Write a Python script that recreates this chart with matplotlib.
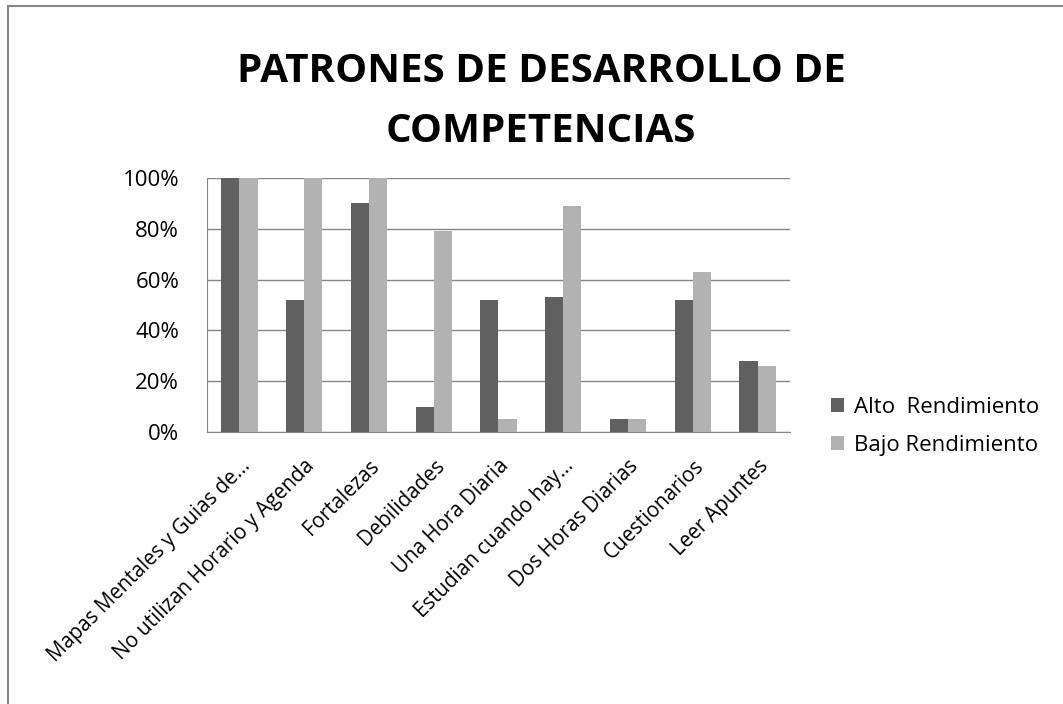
import numpy as np
import matplotlib
matplotlib.use("Agg")
from matplotlib import pyplot as plt
from matplotlib.lines import Line2D

categories = [
    "Mapas Mentales y Guias de...",
    "No utilizan Horario y Agenda",
    "Fortalezas",
    "Debilidades",
    "Una Hora Diaria",
    "Estudian cuando hay...",
    "Dos Horas Diarias",
    "Cuestionarios",
    "Leer Apuntes",
]
alto = [100, 52, 90, 10, 52, 53, 5, 52, 28]
bajo = [100, 100, 100, 79, 5, 89, 5, 63, 26]
series_names = ["Alto  Rendimiento", "Bajo Rendimiento"]

plt.rcParams["font.family"] = ["Open Sans", "DejaVu Sans"]

W, H = 1063, 704
fig = plt.figure(figsize=(W / 100, H / 100), dpi=100)
ax = fig.add_axes([207 / W, 1 - 432 / H, 583 / W, 254 / H])

x = np.arange(len(categories))
w = 0.28
ax.bar(x - w / 2, alto, w, color="#606060", label=series_names[0], zorder=3)
ax.bar(x + w / 2, bajo, w, color="#b2b2b2", label=series_names[1], zorder=3)

ax.set_xlim(-0.5, len(categories) - 0.5)
ax.set_ylim(0, 100)
ax.set_yticks(range(0, 101, 20))
ax.set_yticklabels([f"{v}%" for v in range(0, 101, 20)], fontsize=16)
ax.yaxis.grid(True, color="#868686", lw=1, zorder=0)
ax.set_xticks(x)
ax.set_xticklabels(categories, rotation=45, ha="right", rotation_mode="anchor",
                   fontsize=14.8)
ax.tick_params(axis="y", length=0, pad=20)
ax.tick_params(axis="x", length=0, pad=17)
for s in ["top", "right"]:
    ax.spines[s].set_visible(False)
for s in ["left", "bottom"]:
    ax.spines[s].set_color("#868686")

fig.text(541 / W, 1 - 72 / H, "PATRONES DE DESARROLLO DE", ha="center",
         va="center", fontsize=29, fontweight="bold")
fig.text(541 / W, 1 - 132 / H, "COMPETENCIAS", ha="center",
         va="center", fontsize=29, fontweight="bold")

ax.legend(loc="upper left", bbox_to_anchor=(831 / W, 1 - 397 / H),
          bbox_transform=fig.transFigure, frameon=False, fontsize=16,
          handlelength=0.6, handleheight=0.6, handletextpad=0.45,
          labelspacing=0.75, borderpad=0, borderaxespad=0)

# chart border (only left and top visible in the crop)
fig.add_artist(Line2D([8 / W, 8 / W], [0, 1 - 6 / H], transform=fig.transFigure,
                      color="#868686", lw=1.5))
fig.add_artist(Line2D([8 / W, 1], [1 - 6 / H, 1 - 6 / H], transform=fig.transFigure,
                      color="#868686", lw=1.5))

fig.savefig("out.png", dpi=100)
